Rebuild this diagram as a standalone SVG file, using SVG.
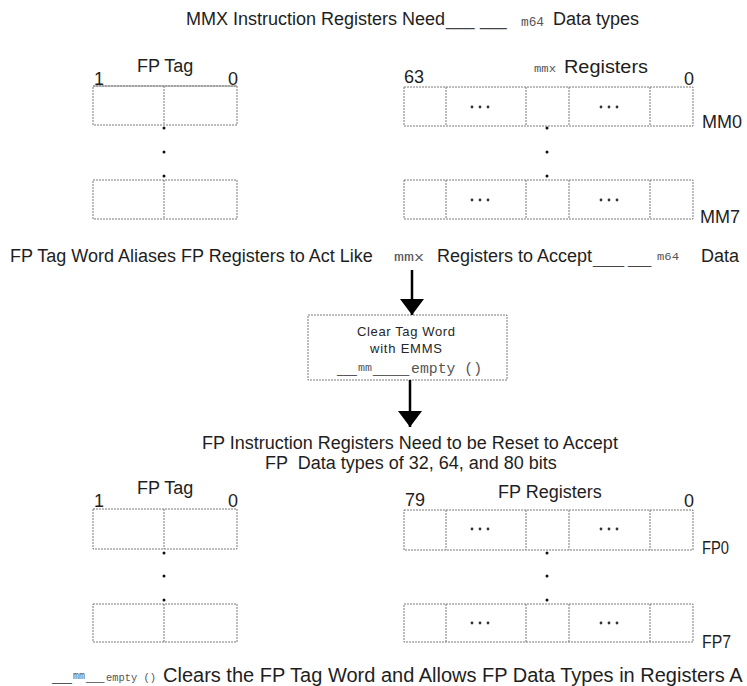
<svg xmlns="http://www.w3.org/2000/svg" width="747" height="686" viewBox="0 0 747 686">
<style>
.t{font-family:"Liberation Sans",Arial,sans-serif;font-size:18px;fill:#1e1e1e}
.c{font-family:"Liberation Sans",Arial,sans-serif;font-size:20px;fill:#1e1e1e}
.s{font-family:"Liberation Sans",Arial,sans-serif;font-size:13px;fill:#262626}
.m{font-family:"Liberation Mono","Courier New",monospace;fill:#555}
.u{font-family:"Liberation Sans",Arial,sans-serif;fill:#444}
.box{fill:none;stroke:#7a7a7a;stroke-width:1;stroke-dasharray:2 1}
.solid{stroke:#8a8a8a;stroke-width:1;fill:none}
.dot{fill:#111}
.ell{fill:#333}
.arrow{stroke:#000;stroke-width:2.5;fill:none;marker-end:url(#ah)}
</style>
<defs>
<marker id="ah" markerUnits="userSpaceOnUse" viewBox="0 0 16 24" refX="16" refY="12" markerWidth="16" markerHeight="24" orient="auto">
<path d="M0,0 L16,12 L0,24 z" fill="#000"/>
</marker>
<g id="ellipsis"><circle cx="-8" cy="0" r="1.4" class="ell"/><circle cx="0" cy="0" r="1.4" class="ell"/><circle cx="8" cy="0" r="1.4" class="ell"/></g>
</defs>
<rect width="747" height="686" fill="#fff"/>

<g id="title">
<text class="t" x="186" y="25" textLength="259" lengthAdjust="spacingAndGlyphs">MMX Instruction Registers Need</text>
<text class="u" x="446" y="26" font-size="17" fill="#222">___</text>
<text class="u" x="480" y="26" font-size="16" fill="#777">___</text>
<text class="m" x="521" y="26" font-size="12" textLength="23" lengthAdjust="spacingAndGlyphs">m64</text>
<text class="t" x="553" y="25">Data types</text>
</g>

<g id="fp-tag-top">
<text class="t" x="137" y="72">FP Tag</text>
<text class="t" x="94" y="85">1</text>
<text class="t" x="228" y="85">0</text>
<rect class="box" x="93" y="86" width="144" height="39"/>
<line class="solid" x1="93" y1="86" x2="237" y2="86"/>
<line class="box" x1="164" y1="86" x2="164" y2="125"/>
<circle class="dot" cx="164" cy="128" r="1.5"/>
<circle class="dot" cx="164" cy="152" r="1.5"/>
<circle class="dot" cx="164" cy="176" r="1.5"/>
<rect class="box" x="93" y="180" width="144" height="39"/>
<line class="box" x1="164" y1="180" x2="164" y2="219"/>
</g>

<g id="mmx-registers">
<text class="m" x="534" y="72" font-size="11" textLength="22" lengthAdjust="spacingAndGlyphs">mmx</text>
<text class="t" x="564" y="73" textLength="84" lengthAdjust="spacingAndGlyphs">Registers</text>
<text class="t" x="404" y="83">63</text>
<text class="t" x="684" y="85">0</text>
<rect class="box" x="404" y="87" width="289" height="39"/>
<line class="box" x1="446" y1="87" x2="446" y2="126"/>
<line class="box" x1="526" y1="87" x2="526" y2="126"/>
<line class="box" x1="569" y1="87" x2="569" y2="126"/>
<line class="box" x1="650" y1="87" x2="650" y2="126"/>
<use href="#ellipsis" x="480" y="107"/>
<use href="#ellipsis" x="609" y="107"/>
<text class="t" x="702" y="128">MM0</text>
<circle class="dot" cx="547" cy="128" r="1.5"/>
<circle class="dot" cx="547" cy="152" r="1.5"/>
<circle class="dot" cx="547" cy="176" r="1.5"/>
<rect class="box" x="404" y="180" width="289" height="39"/>
<line class="box" x1="446" y1="180" x2="446" y2="219"/>
<line class="box" x1="526" y1="180" x2="526" y2="219"/>
<line class="box" x1="569" y1="180" x2="569" y2="219"/>
<line class="box" x1="650" y1="180" x2="650" y2="219"/>
<use href="#ellipsis" x="480" y="200"/>
<use href="#ellipsis" x="609" y="200"/>
<text class="t" x="700" y="223">MM7</text>
</g>

<g id="alias-caption">
<text class="t" x="10" y="262">FP Tag Word Aliases FP Registers to Act Like</text>
<text class="m" x="394" y="261" font-size="12" textLength="30" lengthAdjust="spacingAndGlyphs">mmx</text>
<text class="t" x="437" y="262">Registers to Accept</text>
<text class="u" x="593" y="264" font-size="14" fill="#888">____ ___</text>
<text class="m" x="657" y="260" font-size="11" textLength="22" lengthAdjust="spacingAndGlyphs">m64</text>
<text class="t" x="701" y="262">Data</text>
</g>

<g id="emms-box">
<rect class="box" x="308" y="315" width="199" height="65"/>
<text class="s" x="357" y="336" textLength="98" lengthAdjust="spacing">Clear Tag Word</text>
<text class="s" x="370" y="353" textLength="72" lengthAdjust="spacing">with EMMS</text>
<text class="u" x="337" y="373" font-size="12" fill="#333">___</text>
<text class="m" x="358" y="371" font-size="10" textLength="14" lengthAdjust="spacingAndGlyphs">mm</text>
<text class="u" x="373" y="373" font-size="13" fill="#555">_____</text>
<text class="m" x="411" y="373" font-size="14.8" fill="#444">empty ()</text>
</g>

<g id="connectors">
<line class="arrow" x1="412" y1="270" x2="412" y2="315"/>
<line class="arrow" x1="410" y1="380" x2="410" y2="427"/>
</g>

<g id="fp-reset-caption">
<text class="t" x="202" y="449">FP Instruction Registers Need to be Reset to Accept</text>
<text class="t" x="265" y="469" xml:space="preserve">FP  Data types of 32, 64, and 80 bits</text>
</g>

<g id="fp-tag-bottom">
<text class="t" x="137" y="494">FP Tag</text>
<text class="t" x="94" y="507">1</text>
<text class="t" x="228" y="507">0</text>
<rect class="box" x="93" y="509" width="144" height="40"/>
<line class="box" x1="164" y1="509" x2="164" y2="549"/>
<circle class="dot" cx="164" cy="553" r="1.5"/>
<circle class="dot" cx="164" cy="576" r="1.5"/>
<circle class="dot" cx="164" cy="600" r="1.5"/>
<rect class="box" x="93" y="604" width="144" height="38"/>
<line class="box" x1="164" y1="604" x2="164" y2="642"/>
</g>

<g id="fp-registers">
<text class="t" x="498" y="498">FP Registers</text>
<text class="t" x="405" y="506">79</text>
<text class="t" x="684" y="507">0</text>
<rect class="box" x="404" y="510" width="289" height="40"/>
<line class="box" x1="446" y1="510" x2="446" y2="550"/>
<line class="box" x1="526" y1="510" x2="526" y2="550"/>
<line class="box" x1="569" y1="510" x2="569" y2="550"/>
<line class="box" x1="650" y1="510" x2="650" y2="550"/>
<use href="#ellipsis" x="480" y="529"/>
<use href="#ellipsis" x="609" y="529"/>
<text class="t" x="702" y="554" textLength="27" lengthAdjust="spacingAndGlyphs">FP0</text>
<circle class="dot" cx="547" cy="553" r="1.5"/>
<circle class="dot" cx="547" cy="576" r="1.5"/>
<circle class="dot" cx="547" cy="600" r="1.5"/>
<rect class="box" x="404" y="604" width="289" height="38"/>
<line class="box" x1="446" y1="604" x2="446" y2="642"/>
<line class="box" x1="526" y1="604" x2="526" y2="642"/>
<line class="box" x1="569" y1="604" x2="569" y2="642"/>
<line class="box" x1="650" y1="604" x2="650" y2="642"/>
<use href="#ellipsis" x="480" y="623"/>
<use href="#ellipsis" x="609" y="623"/>
<text class="t" x="702" y="648" textLength="29" lengthAdjust="spacingAndGlyphs">FP7</text>
</g>

<g id="empty-caption">
<text class="u" x="52" y="681" font-size="12" fill="#555">___</text>
<text class="m" x="73" y="679" font-size="10" textLength="12" lengthAdjust="spacingAndGlyphs">mm</text>
<text class="u" x="86" y="681" font-size="11" fill="#555">___</text>
<text class="m" x="106" y="681" font-size="11" textLength="50" lengthAdjust="spacingAndGlyphs">empty ()</text>
<text class="c" x="163" y="682">Clears the FP Tag Word and Allows FP Data Types in Registers A</text>
</g>
</svg>
